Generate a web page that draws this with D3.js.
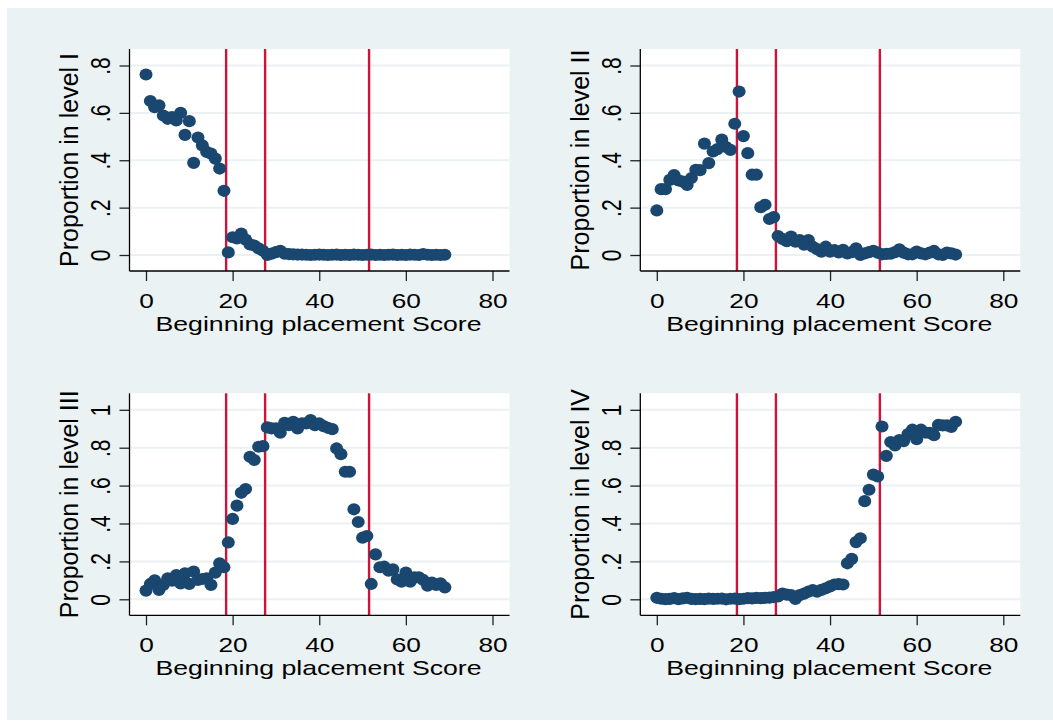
<!DOCTYPE html>
<html>
<head>
<meta charset="utf-8">
<script src="https://cdn.jsdelivr.net/npm/d3@7"></script>
<style>
  body { margin: 0; background: #fff; }
  svg text { font-family: "Liberation Sans", Arial, sans-serif; fill: #000; }
</style>
</head>
<body>
<svg></svg>
<script>
const [svgWidth, svgHeight] = [1053, 723];

// beginning placement score (x) for every point
const scores = [0, 1, 2, 3, 4, 5, 6, 7, 8, 9, 10, 11, 12, 13, 14, 15, 16, 17, 18, 19,
  20, 21, 22, 23, 24, 25, 26, 27, 28, 29, 30, 31, 32, 33, 34, 35, 36, 37, 38, 39,
  40, 41, 42, 43, 44, 45, 46, 47, 48, 49, 50, 51, 52, 53, 54, 55, 56, 57, 58, 59,
  60, 61, 62, 63, 64, 65, 66, 67, 68, 69];

const level1 = [.762, .65, .624, .632, .589, .575, .582, .568, .6, .507, .565, .389, .496, .463, .435, .428, .407, .365, .271, .011,
  .075, .07, .09, .065, .045, .04, .028, .018, .0, .006, .012, .018, .006, .004, .003, .002, .002, .001, .0, .001,
  .002, .001, .0, .001, .002, .0, .001, .0, .002, .001, .0, .001, .002, .0, .001, .0, .001, .002, .0, .001,
  .0, .002, .001, .0, .004, .001, .0, .001, .0, .001];

const level2 = [.188, .278, .278, .317, .337, .315, .31, .296, .325, .36, .358, .47, .388, .437, .447, .487, .456, .444, .554, .69,
  .502, .43, .339, .339, .202, .212, .152, .16, .08, .068, .058, .078, .056, .063, .044, .063, .035, .025, .014, .035,
  .014, .021, .011, .022, .007, .012, .028, .0, .007, .012, .018, .01, .003, .005, .006, .012, .024, .01, .003, .003,
  .014, .007, .003, .01, .017, .003, .0, .01, .007, .002];

const level3 = [.046, .081, .1, .05, .076, .11, .098, .128, .084, .137, .081, .146, .102, .107, .11, .076, .141, .19, .169, .3,
  .424, .494, .562, .582, .752, .735, .805, .808, .907, .902, .902, .879, .931, .919, .937, .902, .928, .928, .946, .919,
  .928, .914, .905, .898, .796, .766, .673, .673, .475, .408, .325, .334, .081, .237, .169, .172, .151, .158, .105, .093,
  .141, .093, .116, .116, .102, .072, .088, .076, .084, .063];

const level4 = [.008, .003, .001, .002, .006, .001, .005, .008, .002, .001, .002, .001, .004, .002, .003, .004, .0, .003, .004, .001,
  .003, .006, .005, .007, .006, .008, .009, .012, .015, .03, .025, .022, .002, .022, .03, .04, .048, .04, .05, .058,
  .068, .078, .08, .078, .19, .213, .302, .322, .518, .578, .658, .648, .912, .757, .83, .812, .84, .835, .872, .895,
  .845, .895, .88, .878, .866, .92, .918, .918, .91, .937];

const cutoffs = [18.5, 27.5, 51.5];
const xTicks = [0, 20, 40, 60, 80];
const yTicksTop = [0, .2, .4, .6, .8];
const yTicksBottom = [0, .2, .4, .6, .8, 1];
const yTitles = ['Proportion in level I', 'Proportion in level II', 'Proportion in level III', 'Proportion in level IV'];
const xTitle = 'Beginning placement Score';

const panels = [
  { values: level1, title: yTitles[0], ticks: yTicksTop, left: 129.5, top: 49 },
  { values: level2, title: yTitles[1], ticks: yTicksTop, left: 640.3, top: 49 },
  { values: level3, title: yTitles[2], ticks: yTicksBottom, left: 129.5, top: 393.3 },
  { values: level4, title: yTitles[3], ticks: yTicksBottom, left: 640.3, top: 393.3 }
];
const [plotW, plotH] = [380, 222];
const navy = '#1a476f';
const red = '#cf1238';
const gridColor = '#eaf2f3';

const svg = d3.select('svg')
  .attr('width', svgWidth)
  .attr('height', svgHeight);

svg.append('rect')
  .attr('x', 7).attr('y', 8)
  .attr('width', svgWidth - 7).attr('height', 712)
  .attr('fill', gridColor);

const fmt = d => d === 0 ? '0' : d === 1 ? '1' : String(d).replace('0.', '.');

panels.forEach(p => {
  const x = d3.scaleLinear()
    .domain([0, 80])
    .range([p.left + 16.5, p.left + 363]);
  const y = d3.scaleLinear()
    .domain([0, d3.max(p.ticks)])
    .range([p.top + 206, p.top + 16.5]);
  const bottom = p.top + plotH;
  const g = svg.append('g');

  g.append('rect')
    .attr('x', p.left).attr('y', p.top)
    .attr('width', plotW).attr('height', plotH)
    .attr('fill', '#fff');

  g.selectAll('.grid')
    .data(p.ticks)
    .enter().append('line')
    .attr('x1', p.left).attr('x2', p.left + plotW)
    .attr('y1', d => y(d)).attr('y2', d => y(d))
    .attr('stroke', gridColor)
    .attr('stroke-width', 2);

  g.selectAll('.cut')
    .data(cutoffs)
    .enter().append('line')
    .attr('x1', d => x(d)).attr('x2', d => x(d))
    .attr('y1', p.top).attr('y2', bottom)
    .attr('stroke', red)
    .attr('stroke-width', 2.4);

  g.selectAll('.pt')
    .data(p.values.map((v, i) => ({ s: scores[i], v })))
    .enter().append('ellipse')
    .attr('cx', d => x(d.s))
    .attr('cy', d => y(d.v))
    .attr('rx', 6.5).attr('ry', 6.1)
    .attr('fill', navy);

  const xAxis = g.append('g')
    .attr('transform', `translate(0, ${bottom})`)
    .call(d3.axisBottom(x).tickValues(xTicks).tickSize(10).tickSizeOuter(0).tickFormat(d => d));
  xAxis.select('.domain').remove();
  xAxis.selectAll('line').attr('stroke', '#222').attr('stroke-width', 1.3);
  xAxis.selectAll('text')
    .attr('y', null).attr('dy', null)
    .attr('font-size', 21)
    .attr('transform', 'translate(0, 37) scale(1.25, 1)');

  const yAxis = g.append('g')
    .attr('transform', `translate(${p.left}, 0)`)
    .call(d3.axisLeft(y).tickValues(p.ticks).tickSize(10).tickSizeOuter(0).tickFormat(fmt));
  yAxis.select('.domain').remove();
  yAxis.selectAll('line').attr('stroke', '#222').attr('stroke-width', 1.3);
  yAxis.selectAll('text')
    .attr('x', null).attr('dy', null)
    .attr('text-anchor', 'middle')
    .attr('font-size', 21)
    .attr('transform', function (d) {
      return `translate(-19.5, 0) rotate(-90) scale(1, 1.3)`;
    });

  g.append('line')
    .attr('x1', p.left).attr('x2', p.left)
    .attr('y1', p.top).attr('y2', bottom)
    .attr('stroke', '#000').attr('stroke-width', 1.3);
  g.append('line')
    .attr('x1', p.left).attr('x2', p.left + plotW)
    .attr('y1', bottom).attr('y2', bottom)
    .attr('stroke', '#000').attr('stroke-width', 1.3);

  g.append('text')
    .attr('text-anchor', 'middle')
    .attr('font-size', 21)
    .attr('transform', `translate(${p.left + plotW / 2 - 1}, ${bottom + 60}) scale(1.27, 1)`)
    .text(xTitle);

  g.append('text')
    .attr('text-anchor', 'middle')
    .attr('font-size', 25)
    .attr('transform', `translate(${p.left - 51.6}, ${p.top + plotH / 2}) rotate(-90)`)
    .text(p.title);
});
</script>
</body>
</html>
